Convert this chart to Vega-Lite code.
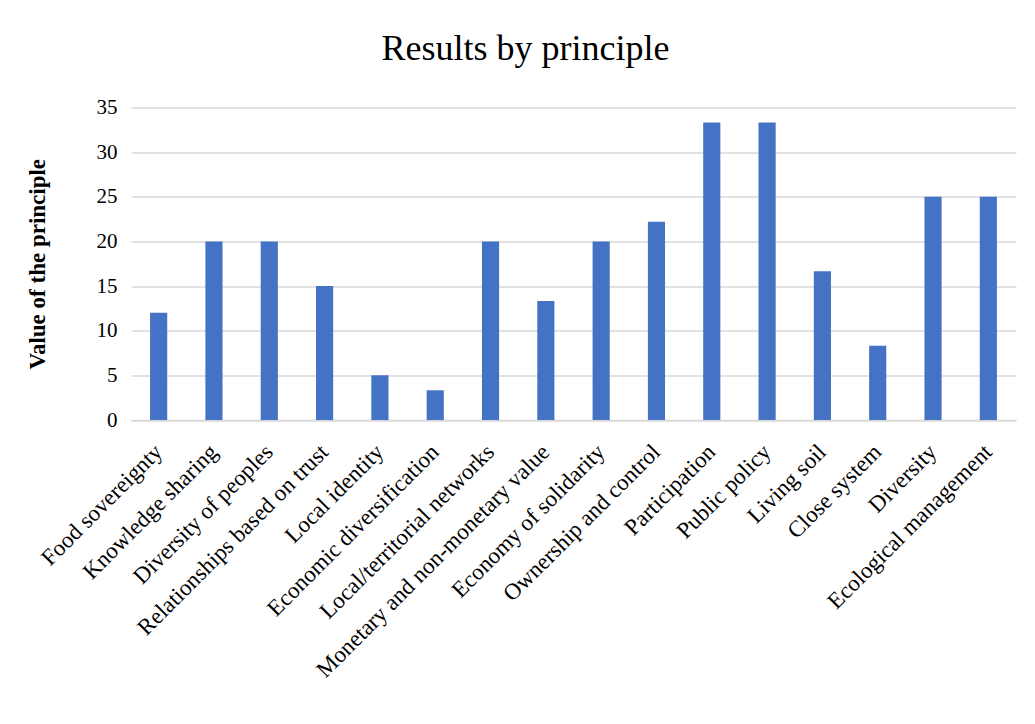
{
  "$schema": "https://vega.github.io/schema/vega-lite/v6.json",
  "autosize": {"type": "none"},
  "width": 885,
  "height": 312.5,
  "padding": {"left": 131, "top": 107.5, "right": 19, "bottom": 304},
  "background": "white",
  "title": {
    "text": "Results by principle",
    "font": "Liberation Serif",
    "fontSize": 36,
    "fontWeight": "normal",
    "color": "black",
    "anchor": "middle",
    "dx": -48,
    "offset": 29
  },
  "data": {
    "values": [
      {"principle": "Food sovereignty", "value": 12},
      {"principle": "Knowledge sharing", "value": 20},
      {"principle": "Diversity of peoples", "value": 20},
      {"principle": "Relationships based on trust", "value": 15},
      {"principle": "Local identity", "value": 5},
      {"principle": "Economic diversification", "value": 3.33},
      {"principle": "Local/territorial networks", "value": 20},
      {"principle": "Monetary and non-monetary value", "value": 13.33},
      {"principle": "Economy of solidarity", "value": 20},
      {"principle": "Ownership and control", "value": 22.2},
      {"principle": "Participation", "value": 33.33},
      {"principle": "Public policy", "value": 33.33},
      {"principle": "Living soil", "value": 16.67},
      {"principle": "Close system", "value": 8.33},
      {"principle": "Diversity", "value": 25},
      {"principle": "Ecological management", "value": 25}
    ]
  },
  "mark": {"type": "bar", "color": "#4472C4"},
  "encoding": {
    "x": {
      "field": "principle",
      "type": "nominal",
      "sort": null,
      "scale": {"paddingInner": 0.69, "paddingOuter": 0.345},
      "axis": {
        "title": null,
        "labelAngle": -45,
        "labelAlign": "right",
        "labelBaseline": "middle",
        "labelFont": "Liberation Serif",
        "labelFontSize": 23,
        "labelColor": "black",
        "labelPadding": 28,
        "ticks": false,
        "domain": true,
        "domainColor": "#d9d9d9",
        "domainWidth": 1.5,
        "labelOverlap": false,
        "labelLimit": 400
      }
    },
    "y": {
      "field": "value",
      "type": "quantitative",
      "scale": {"domain": [0, 35], "nice": false},
      "axis": {
        "title": "Value of the principle",
        "titleFont": "Liberation Serif",
        "titleFontSize": 23,
        "titleFontWeight": "bold",
        "titleColor": "black",
        "titlePadding": 47,
        "values": [0, 5, 10, 15, 20, 25, 30, 35],
        "labelFont": "Liberation Serif",
        "labelFontSize": 21,
        "labelColor": "black",
        "labelPadding": 14,
        "ticks": false,
        "domain": false,
        "grid": true,
        "gridColor": "#d9d9d9",
        "gridWidth": 1.5
      }
    }
  },
  "config": {"view": {"stroke": null}}
}
